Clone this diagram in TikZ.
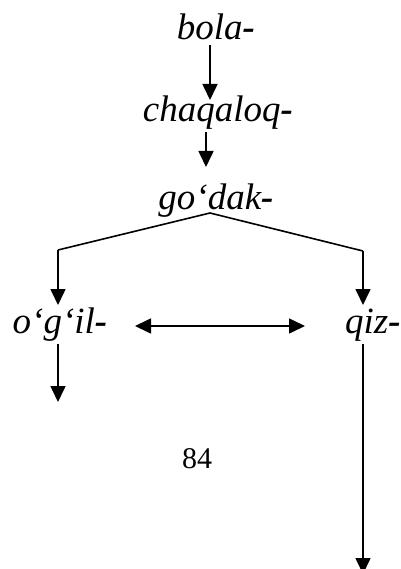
\documentclass[tikz,border=0pt]{standalone}
\usepackage{fontspec}
\setmainfont{Liberation Serif}
\usetikzlibrary{arrows.meta}
\newcommand{\hy}{\textbf{-}}
\tikzset{
  word/.style={anchor=base, inner sep=0pt, font=\fontsize{37}{44}\selectfont\itshape},
  pagenum/.style={anchor=base, inner sep=0pt, font=\fontsize{30}{36}\selectfont},
  arr/.style={line width=1.6pt, -{Triangle[length=16pt,width=15pt]}},
  twoarr/.style={line width=1.6pt, {Triangle[length=16pt,width=15pt]}-{Triangle[length=16pt,width=15pt]}},
  branch/.style={line width=1.6pt}
}
\begin{document}
\begin{tikzpicture}[x=1pt,y=-1pt]
\useasboundingbox (0,0) rectangle (400,569);

% words
\node[word] (bola) at (216,40) {bola\hy};
\node[word] (chaq) at (218,122) {chaqaloq\hy};
\node[word] (godak) at (216,209) {go‘dak\hy};
\node[word] (ogil) at (60,333) {o‘g‘il\hy};
\node[word, anchor=base west] (qiz) at (345,333) {qiz\hy};
\node[pagenum] (num) at (197,468) {84};

% arrow ends
\coordinate (b1) at (210,45);
\coordinate (c1) at (210,100);
\coordinate (c2) at (206,132);
\coordinate (g1) at (206,167);
\coordinate (apex) at (210,213);
\coordinate (lk) at (58,250);
\coordinate (rk) at (363,251);
\coordinate (lt) at (58,305);
\coordinate (rt) at (363,305);
\coordinate (la) at (135,326);
\coordinate (ra) at (305,326);
\coordinate (o1) at (58,344);
\coordinate (o2) at (58,402);
\coordinate (q1) at (363,344);
\coordinate (q2) at (363,574);

\draw[arr] (b1) -- (c1);
\draw[arr] (c2) -- (g1);
\draw[branch] (apex) -- (lk);
\draw[arr] (lk) -- (lt);
\draw[branch] (apex) -- (rk);
\draw[arr] (rk) -- (rt);
\draw[twoarr] (la) -- (ra);
\draw[arr] (o1) -- (o2);
\draw[arr] (q1) -- (q2);
\end{tikzpicture}
\end{document}
